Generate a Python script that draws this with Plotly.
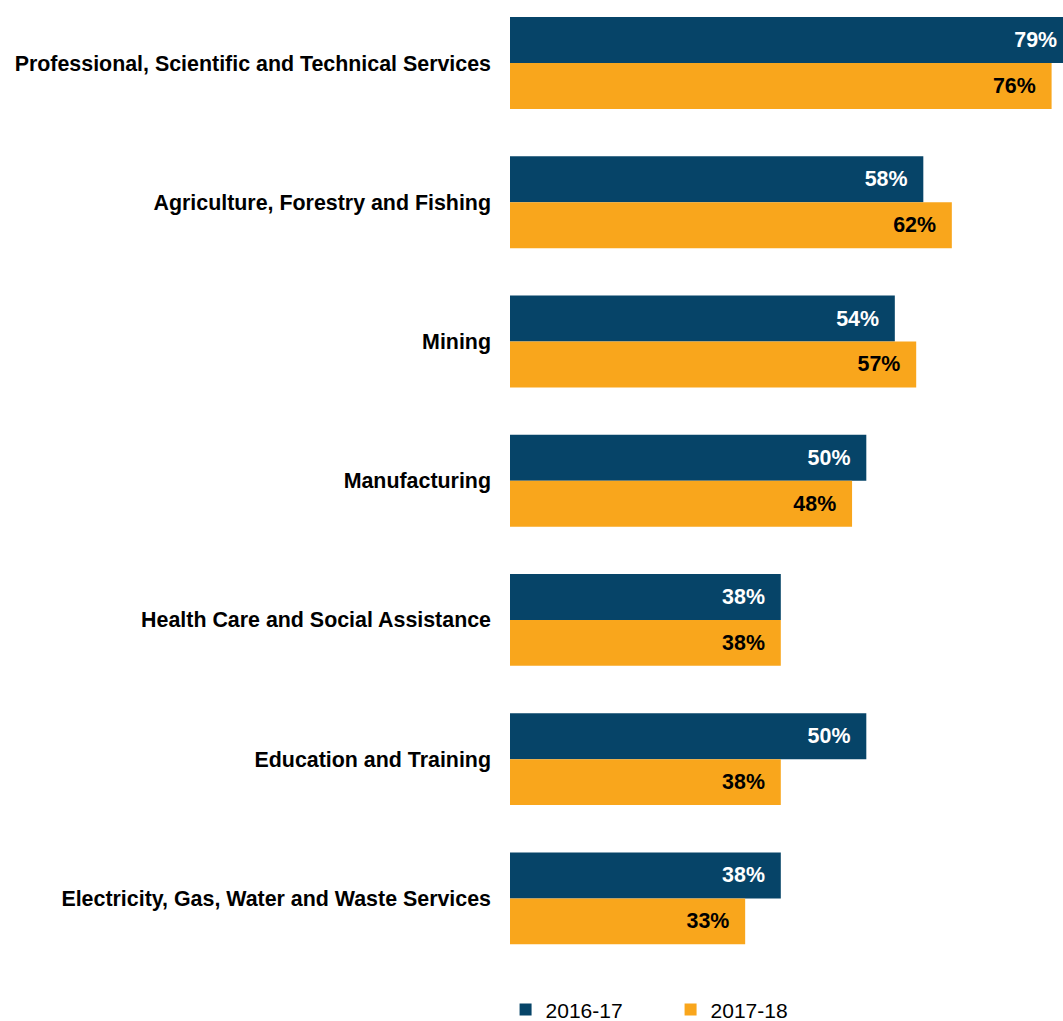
import plotly.graph_objects as go

# Industry categories, top to bottom
categories = [
    "Professional, Scientific and Technical Services",
    "Agriculture, Forestry and Fishing",
    "Mining",
    "Manufacturing",
    "Health Care and Social Assistance",
    "Education and Training",
    "Electricity, Gas, Water and Waste Services",
]

# Share of businesses (%) per financial year
values_2016_17 = [79, 58, 54, 50, 38, 50, 38]
values_2017_18 = [76, 62, 57, 48, 38, 38, 33]

series_names = ["2016-17", "2017-18"]

NAVY = "#064468"
ORANGE = "#F9A61C"
FONT = "Liberation Sans, Arial, sans-serif"

# value label, right-aligned inside the bar with a little breathing room
LABEL = "<b>%{x}%</b>\u2009\u2009\u2009"

fig = go.Figure()

fig.add_trace(go.Bar(
    name=series_names[0],
    y=categories,
    x=values_2016_17,
    orientation="h",
    marker=dict(color=NAVY, line=dict(width=0)),
    texttemplate=LABEL,
    textposition="inside",
    insidetextanchor="end",
    textfont=dict(family=FONT, size=21.4, color="white"),
    cliponaxis=True,
))

fig.add_trace(go.Bar(
    name=series_names[1],
    y=categories,
    x=values_2017_18,
    orientation="h",
    marker=dict(color=ORANGE, line=dict(width=0)),
    texttemplate=LABEL,
    textposition="inside",
    insidetextanchor="end",
    textfont=dict(family=FONT, size=21.4, color="black"),
    cliponaxis=True,
))

fig.update_layout(
    width=1063,
    height=1021,
    autosize=False,
    barmode="group",
    bargap=0.34,
    bargroupgap=0,
    plot_bgcolor="white",
    paper_bgcolor="white",
    margin=dict(l=510, r=0, t=0, b=53, pad=0),
    font=dict(family=FONT, size=21, color="black"),
    uniformtext=dict(mode=False),
    legend=dict(
        orientation="h",
        xref="paper",
        yref="container",
        x=-0.008,
        xanchor="left",
        y=0.011,
        yanchor="middle",
        font=dict(family=FONT, size=21, color="black"),
        itemwidth=30,
        entrywidth=120,
        traceorder="normal",
    ),
)

fig.update_xaxes(
    visible=False,
    range=[0, 77.6],
    showgrid=False,
    zeroline=False,
    fixedrange=True,
)

fig.update_yaxes(
    type="category",
    range=[6.5, -0.4526],
    showgrid=False,
    zeroline=False,
    showline=False,
    ticks="",
    ticklabelstandoff=18,
    tickfont=dict(family=FONT, size=21.4, color="black", weight="bold"),
    fixedrange=True,
)

fig.write_html("out.html", config={"displayModeBar": False})
